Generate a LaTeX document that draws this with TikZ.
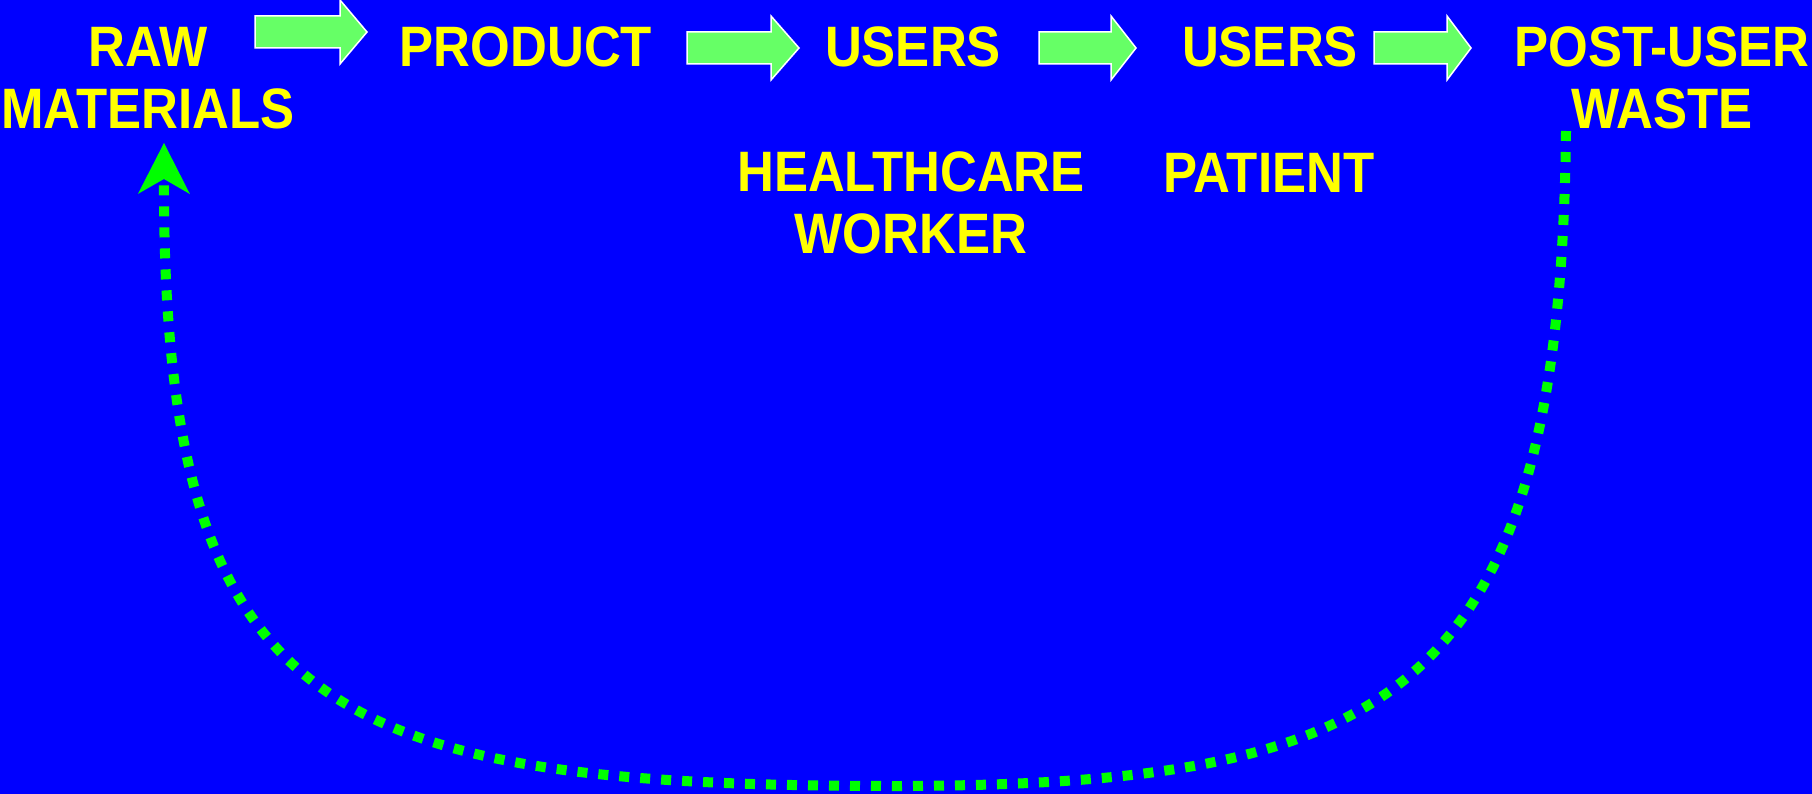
\documentclass[tikz,border=0pt]{standalone}
\usepackage{fontspec}
\setmainfont{Liberation Sans}[FakeStretch=0.895]
\usetikzlibrary{arrows.meta}
\definecolor{bgblue}{HTML}{0000FF}
\definecolor{labelyellow}{HTML}{FFFF00}
\definecolor{arrowgreen}{HTML}{66FF66}
\definecolor{loopgreen}{HTML}{00FF00}
\newcommand\blkarrow[4]{\draw[blockarrow] (#1,#4-16) -- (#2,#4-16) -- (#2,#4-32) -- (#3,#4) -- (#2,#4+32) -- (#2,#4+16) -- (#1,#4+16) -- cycle;}
\begin{document}
\begin{tikzpicture}[x=1pt,y=-1pt,
  lbl/.style={text=labelyellow, font=\bfseries\fontsize{57}{62}\selectfont, inner sep=0pt, align=center, anchor=base},
  blockarrow/.style={fill=arrowgreen, draw=white, line width=1.5pt, line join=miter},
  returnpath/.style={draw=loopgreen, line width=10pt, dash pattern=on 10pt off 11pt,
    -{Stealth[length=51pt,width=52pt,inset=15pt,line width=0pt]}}]
\fill[bgblue] (0,0) rectangle (1812,794);
\useasboundingbox (0,0) rectangle (1812,794);

\node[lbl] (raw) at (148,129) {RAW\\MATERIALS};
\node[lbl] (product) at (526,67) {PRODUCT};
\node[lbl] (users1) at (913,67) {USERS};
\node[lbl] (users2) at (1270,67) {USERS};
\node[lbl] (waste) at (1662,129) {POST-USER\\WASTE};
\node[lbl] (hcw) at (911,254) {HEALTHCARE\\WORKER};
\node[lbl] (patient) at (1269,193) {PATIENT};

\blkarrow{255}{340}{367}{32}
\blkarrow{687}{771}{799}{48}
\blkarrow{1039}{1111}{1136}{48}
\blkarrow{1374}{1447}{1471}{48}

\coordinate (loopstart) at (1566,131);
\coordinate (loopbottom) at (901,786);
\coordinate (looptip) at (164,143);
\draw[returnpath] (loopstart) .. controls (1560,700) and (1390,784) .. (loopbottom)
  .. controls (330,786) and (163,720) .. (looptip);
\end{tikzpicture}
\end{document}
